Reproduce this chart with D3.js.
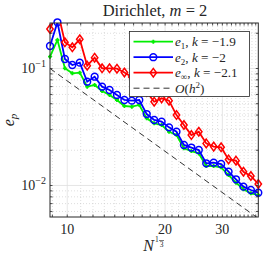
<!DOCTYPE html>
<html>
<head>
<meta charset="utf-8">
<script src="https://cdn.jsdelivr.net/npm/d3@7"></script>
<style>
  body { margin: 0; background: #fff; }
  text { font-family: "Liberation Serif", "DejaVu Serif", serif; fill: #262626; }
</style>
</head>
<body>
<svg id="svg" width="266" height="257"></svg>
<script>
// N^(1/3) values
var nVals = [8.85, 9.329, 9.834, 10.366, 10.927, 11.518, 12.141, 12.798, 13.491, 14.221,
  14.990, 15.801, 16.656, 17.558, 18.508, 19.509, 20.565, 21.678, 22.851, 24.087,
  25.390, 26.764, 28.213, 29.739, 31.348, 33.045, 34.833, 36.717, 38.70];
var e1 = [0.1262, 0.1752, 0.1004, 0.0910, 0.0921, 0.0699, 0.0723, 0.0642, 0.0594, 0.0538,
  0.0478, 0.0472, 0.0488, 0.0375, 0.0340, 0.0329, 0.0288, 0.0270, 0.0208, 0.0197,
  0.0188, 0.01468, 0.01468, 0.01431, 0.01229, 0.01057, 0.00928, 0.00858, 0.00830];
var e2 = [0.1557, 0.2482, 0.1206, 0.1071, 0.1121, 0.0771, 0.0851, 0.0699, 0.0655, 0.0594,
  0.0538, 0.0531, 0.0538, 0.0408, 0.0363, 0.0351, 0.0314, 0.0288, 0.0222, 0.0211,
  0.0201, 0.01548, 0.01566, 0.01527, 0.01312, 0.0113, 0.00977, 0.00915, 0.00868];
var eInf = [0.2176, 0.316, 0.1674, 0.1518, 0.1777, 0.1057, 0.1237, 0.1004, 0.1004, 0.0996,
  0.0924, 0.0846, 0.0767, 0.0630, 0.0520, 0.0556, 0.0531, 0.0400, 0.0329, 0.0270,
  0.0288, 0.0229, 0.0215, 0.0212, 0.0167, 0.0163, 0.01312, 0.01206, 0.0103];
var refX = [8.85, 38.70];
var refY = [0.1, 0.00523];
var xMajor = [10, 20, 30];
var xMinor = [9, 11, 12, 13, 14, 15, 16, 17, 18, 19, 21, 22, 23, 24, 25, 26, 27, 28, 29,
  31, 32, 33, 34, 35, 36, 37, 38];
var yMajor = [0.01, 0.1];
var yMinor = [0.006, 0.007, 0.008, 0.009, 0.02, 0.03, 0.04, 0.05, 0.06, 0.07, 0.08, 0.09, 0.2];

var L = 50, R = 258.3, T = 23, B = 217;
var x = d3.scaleLog().domain([8.85, 38.70]).range([L, R]);
var y = d3.scaleLog().domain([0.00538, 0.2448]).range([B, T]);
var svg = d3.select("#svg");

svg.append("defs").append("clipPath").attr("id", "clip")
  .append("rect").attr("x", L).attr("y", T).attr("width", R - L).attr("height", B - T);

// grid
var grid = svg.append("g");
grid.selectAll(".xmin").data(xMinor).enter().append("line")
  .attr("x1", d => x(d)).attr("x2", d => x(d)).attr("y1", T).attr("y2", B)
  .attr("stroke", "#c8c8c8").attr("stroke-width", 0.6).attr("stroke-dasharray", "1,2");
grid.selectAll(".ymin").data(yMinor).enter().append("line")
  .attr("y1", d => y(d)).attr("y2", d => y(d)).attr("x1", L).attr("x2", R)
  .attr("stroke", "#c8c8c8").attr("stroke-width", 0.6).attr("stroke-dasharray", "1,2");
grid.selectAll(".xmaj").data(xMajor).enter().append("line")
  .attr("x1", d => x(d)).attr("x2", d => x(d)).attr("y1", T).attr("y2", B)
  .attr("stroke", "#e0e0e0").attr("stroke-width", 0.8);
grid.selectAll(".ymaj").data(yMajor).enter().append("line")
  .attr("y1", d => y(d)).attr("y2", d => y(d)).attr("x1", L).attr("x2", R)
  .attr("stroke", "#e0e0e0").attr("stroke-width", 0.8);

// series
function series(vals, color) {
  var pts = nVals.map((n, i) => [x(n), y(vals[i])]);
  svg.append("path").attr("clip-path", "url(#clip)")
    .attr("d", d3.line()(pts))
    .attr("fill", "none").attr("stroke", color).attr("stroke-width", 1.8);
  return pts;
}
function marker(g, kind, px, py, color) {
  if (kind == "star") {
    g.append("path")
      .attr("d", "M" + (px - 2) + "," + py + "h4M" + px + "," + (py - 2) + "v4")
      .attr("stroke", color).attr("stroke-width", 1.8);
  } else if (kind == "circle") {
    g.append("circle").attr("cx", px).attr("cy", py).attr("r", 3.4)
      .attr("fill", "none").attr("stroke", color).attr("stroke-width", 1.5);
  } else {
    g.append("path")
      .attr("d", "M" + px + "," + (py - 4.3) + "L" + (px + 3.2) + "," + py + "L" + px + "," + (py + 4.3)
        + "L" + (px - 3.2) + "," + py + "Z")
      .attr("fill", "none").attr("stroke", color).attr("stroke-width", 1.5);
  }
}
var sers = [[e1, "#00ee00", "star"], [e2, "#0000ff", "circle"], [eInf, "#ff0000", "diamond"]];
sers.forEach(s => {
  var pts = series(s[0], s[1]);
  var g = svg.append("g");
  pts.filter(p => p[1] >= T - 3).forEach(p => marker(g, s[2], p[0], p[1], s[1]));
});

svg.append("path").attr("clip-path", "url(#clip)")
  .attr("d", d3.line()(refX.map((n, i) => [x(n), y(refY[i])])))
  .attr("fill", "none").attr("stroke", "#333").attr("stroke-width", 1)
  .attr("stroke-dasharray", "6,4");

// axes box and inward ticks
var ax = svg.append("g");
ax.append("rect").attr("x", L).attr("y", T).attr("width", R - L).attr("height", B - T)
  .attr("fill", "none").attr("stroke", "#262626").attr("stroke-width", 1);
xMajor.concat(xMinor).forEach(d => {
  ax.append("line").attr("x1", x(d)).attr("x2", x(d)).attr("y1", B).attr("y2", B - 2.5)
    .attr("stroke", "#262626").attr("stroke-width", 0.8);
  ax.append("line").attr("x1", x(d)).attr("x2", x(d)).attr("y1", T).attr("y2", T + 2.5)
    .attr("stroke", "#262626").attr("stroke-width", 0.8);
});
yMajor.concat(yMinor).forEach(d => {
  ax.append("line").attr("y1", y(d)).attr("y2", y(d)).attr("x1", L).attr("x2", L + 2.5)
    .attr("stroke", "#262626").attr("stroke-width", 0.8);
  ax.append("line").attr("y1", y(d)).attr("y2", y(d)).attr("x1", R).attr("x2", R - 2.5)
    .attr("stroke", "#262626").attr("stroke-width", 0.8);
});

// tick labels
xMajor.forEach(d => {
  ax.append("text").attr("x", x(d)).attr("y", B + 17).attr("text-anchor", "middle")
    .attr("font-size", 14).text(d);
});
yMajor.forEach(d => {
  var t = ax.append("text").attr("x", L - 4).attr("y", y(d) + 5).attr("text-anchor", "end")
    .attr("font-size", 14);
  t.append("tspan").text("10");
  t.append("tspan").attr("dy", -6).attr("font-size", 10).text("\u2212" + Math.round(-Math.log10(d)));
});

// title and axis labels
var title = svg.append("text").attr("x", 155).attr("y", 16).attr("text-anchor", "middle")
  .attr("font-size", 16.5);
title.append("tspan").text("Dirichlet, ");
title.append("tspan").attr("font-style", "italic").text("m");
title.append("tspan").text(" = 2");

var xl = svg.append("text").attr("x", 151).attr("y", 251).attr("text-anchor", "middle")
  .attr("font-size", 16);
xl.append("tspan").attr("font-style", "italic").text("N");
xl.append("tspan").attr("dx", 1).attr("dy", -9).attr("font-size", 7.5).text("1");
svg.append("line").attr("x1", 159).attr("x2", 164).attr("y1", 240.5).attr("y2", 240.5)
  .attr("stroke", "#262626").attr("stroke-width", 0.6);
svg.append("text").attr("x", 161.5).attr("y", 247).attr("text-anchor", "middle")
  .attr("font-size", 7.5).text("3");

var yl = svg.append("text").attr("transform", "translate(14,120) rotate(-90)")
  .attr("text-anchor", "middle").attr("font-size", 16);
yl.append("tspan").attr("font-style", "italic").text("e");
yl.append("tspan").attr("font-style", "italic").attr("font-size", 11).attr("dy", 3).text("p");

// legend
var lg = svg.append("g");
lg.append("rect").attr("x", 129.5).attr("y", 31.5).attr("width", 120).attr("height", 65)
  .attr("fill", "#fff").attr("stroke", "#262626").attr("stroke-width", 0.8);
var legItems = [
  ["1", "\u22121.9", "#00ee00", "star"],
  ["2", "\u22122", "#0000ff", "circle"],
  ["\u221e", "\u22122.1", "#ff0000", "diamond"]
];
legItems.forEach((it, i) => {
  var ly = 41.7 + i * 15.5;
  lg.append("line").attr("x1", 133.5).attr("x2", 173).attr("y1", ly).attr("y2", ly)
    .attr("stroke", it[2]).attr("stroke-width", 1.8);
  marker(lg, it[3], 153.3, ly, it[2]);
  var t = lg.append("text").attr("x", 175).attr("y", ly + 4.6).attr("font-size", 13.2);
  t.append("tspan").attr("font-style", "italic").text("e");
  t.append("tspan").attr("font-size", 9).attr("dy", 3).text(it[0]);
  t.append("tspan").attr("dy", -3).text(", ");
  t.append("tspan").attr("font-style", "italic").text("k");
  t.append("tspan").text(" = " + it[1]);
});
var ly4 = 41.7 + 3 * 15.5;
lg.append("line").attr("x1", 133.5).attr("x2", 173).attr("y1", ly4).attr("y2", ly4)
  .attr("stroke", "#333").attr("stroke-width", 1).attr("stroke-dasharray", "6,4");
var t4 = lg.append("text").attr("x", 175).attr("y", ly4 + 4.6).attr("font-size", 13.2);
t4.append("tspan").attr("font-style", "italic").text("O");
t4.append("tspan").text("(");
t4.append("tspan").attr("font-style", "italic").text("h");
t4.append("tspan").attr("font-size", 9).attr("dy", -5).text("2");
t4.append("tspan").attr("dy", 5).text(")");
</script>
</body>
</html>
